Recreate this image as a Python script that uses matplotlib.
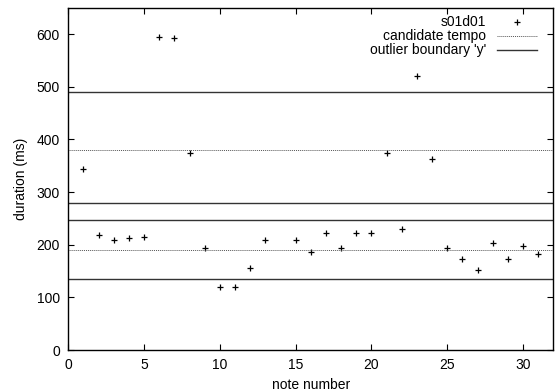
import matplotlib
matplotlib.use("Agg")
import matplotlib.pyplot as plt

plt.rcParams['font.family'] = ['Liberation Sans', 'DejaVu Sans']

note_number = [1, 2, 3, 4, 5, 6, 7, 8, 9, 10, 11, 12, 13, 15, 16, 17, 18, 19, 20,
               21, 22, 23, 24, 25, 26, 27, 28, 29, 30, 31]
duration = [343, 218, 209, 213, 214, 594, 592, 375, 193, 120, 120, 156, 208, 208,
            187, 223, 193, 223, 223, 375, 229, 521, 363, 193, 172, 151, 203, 172, 198, 182]
candidate_tempo = [190, 380]
outlier_boundary = [134, 247, 280, 490]

fig = plt.figure(figsize=(5.57, 3.92), dpi=100)
ax = fig.add_axes([68.3/557, 1-350/392, (553.3-68.3)/557, (350-7.7)/392])

ax.plot(note_number, duration, linestyle='none', marker='+', color='black',
        markersize=5, markeredgewidth=0.9, label='s01d01')
for i, v in enumerate(candidate_tempo):
    ax.axhline(v, color='#555555', linestyle=(0, (1, 1)), linewidth=0.7,
               label='candidate tempo' if i == 0 else None)
for i, v in enumerate(outlier_boundary):
    ax.axhline(v, color='#333333', linestyle='-', linewidth=1.0,
               label="outlier boundary 'y'" if i == 0 else None)

ax.set_xlim(0, 32)
ax.set_ylim(0, 650)
ax.set_xticks([0, 5, 10, 15, 20, 25, 30])
ax.set_yticks([0, 100, 200, 300, 400, 500, 600])
ax.tick_params(direction='in', top=True, right=True, length=4, width=0.8,
               labelsize=10, pad=6)
ax.set_xlabel('note number', fontsize=10, labelpad=4)
ax.set_ylabel('duration (ms)', fontsize=10, labelpad=6)
for s in ax.spines.values():
    s.set_linewidth(1.0)

leg = ax.legend(loc='upper right', frameon=False, markerfirst=False, fontsize=10,
                handlelength=2.9, handletextpad=0.8, labelspacing=0.0,
                borderaxespad=0.3, bbox_to_anchor=(0.987, 1.006))
for t in leg.get_texts():
    t.set_ha('right')
leg._legend_box.align = 'right'

fig.savefig('out.png', dpi=100)
